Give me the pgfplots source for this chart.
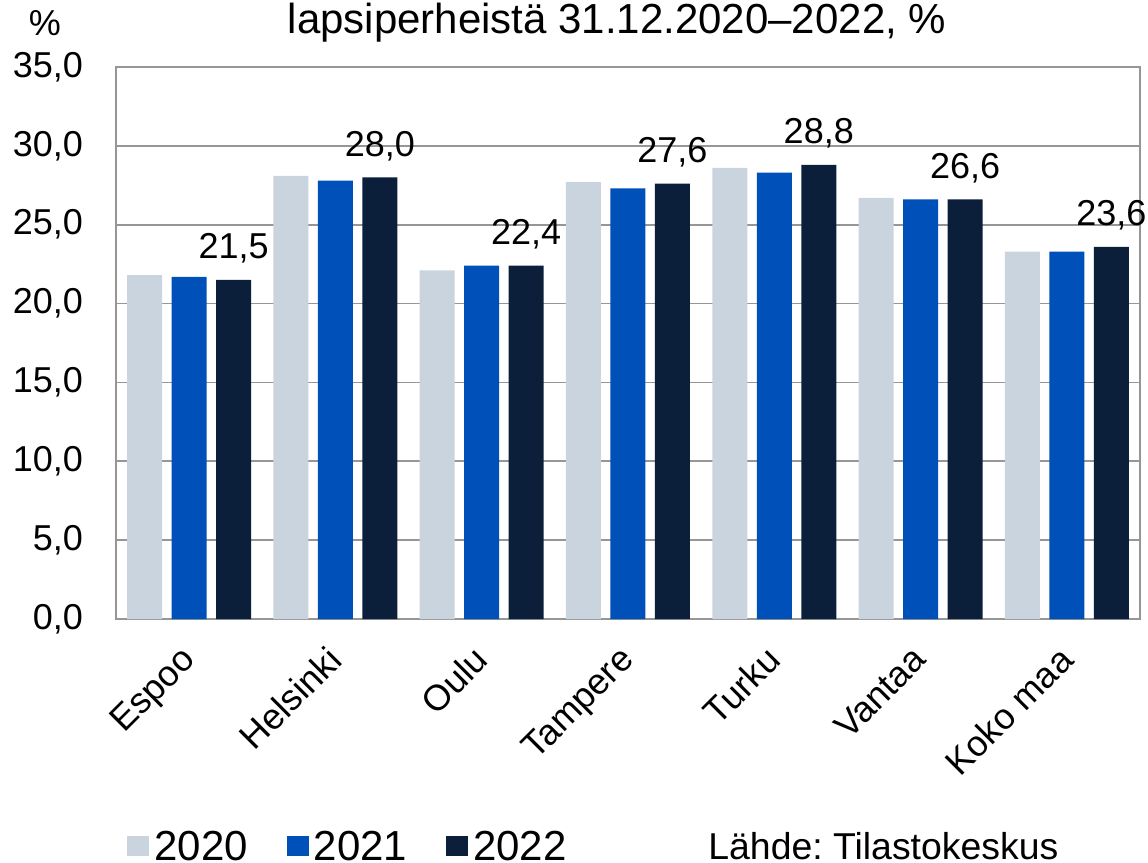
\documentclass[border=0pt]{standalone}
\usepackage{fontspec}
\setmainfont{Liberation Sans}
\usepackage{pgfplots}
\pgfplotsset{compat=1.18}

\definecolor{c2020}{RGB}{201,212,222}
\definecolor{c2021}{RGB}{0,80,185}
\definecolor{c2022}{RGB}{11,30,58}
\definecolor{gridgray}{RGB}{150,150,150}

\begin{document}
\frenchspacing
\begin{tikzpicture}[font=\fontsize{18}{21}\selectfont]
\useasboundingbox (-58pt,-122pt) rectangle (516pt,309.5pt);
\begin{axis}[
  at={(0pt,0pt)}, anchor=south west,
  scale only axis, width=512pt, height=276pt,
  ymin=0, ymax=35, ytick={0,5,...,35},
  xmin=-0.5, xmax=6.5,
  xtick={0,...,6},
  xticklabels={Espoo,Helsinki,Oulu,Tampere,Turku,Vantaa,Koko maa},
  ybar=4.75pt, bar width=17.5pt,
  ymajorgrids, major grid style={gridgray, line width=0.8pt},
  axis line style={gridgray, line width=0.8pt},
  major tick length=0pt,
  tick style={draw=none},
  /pgf/number format/assume math mode=true,
  yticklabel style={/pgf/number format/.cd, fixed, fixed zerofill, precision=1, use comma, /tikz/.cd, xshift=-13pt},
  xticklabel style={xshift=-5pt, yshift=-9.5pt, rotate=45, anchor=north east, inner sep=2pt},
  legend style={at={(0.0107,-0.413)}, anchor=west, draw=none, fill=none, legend columns=3,
    font=\fontsize{21}{23}\selectfont, inner sep=0pt,
    nodes={inner sep=2.5pt},
    /tikz/every even column/.append style={column sep=17pt}},
  legend image code/.code={\fill[#1] (-1.5pt,-4.5pt) rectangle (9.5pt,5.5pt);},
]
\addplot[fill=c2020, draw=none] coordinates {(0,21.8) (1,28.1) (2,22.1) (3,27.7) (4,28.6) (5,26.7) (6,23.3)};
\addlegendentry{2020}
\addplot[fill=c2021, draw=none] coordinates {(0,21.7) (1,27.8) (2,22.4) (3,27.3) (4,28.3) (5,26.6) (6,23.3)};
\addlegendentry{2021}
\addplot[fill=c2022, draw=none,
  nodes near coords, nodes near coords style={black, inner sep=5pt, yshift=3pt,
    /pgf/number format/.cd, fixed, fixed zerofill, precision=1, use comma, assume math mode=true}]
  coordinates {(0,21.5) (1,28.0) (2,22.4) (3,27.6) (4,28.8) (5,26.6) (6,23.6)};
\addlegendentry{2022}
\end{axis}
\node at (-35.5pt,298pt) {\%};
\node[font=\fontsize{21}{24}\selectfont] at (250.5pt,298pt) {lapsiperheistä 31.12.2020–2022, \%};
\node[anchor=base west, font=\fontsize{18.7}{22}\selectfont, inner sep=0pt] at (296pt,-120pt) {Lähde: Tilastokeskus};
\end{tikzpicture}
\end{document}
